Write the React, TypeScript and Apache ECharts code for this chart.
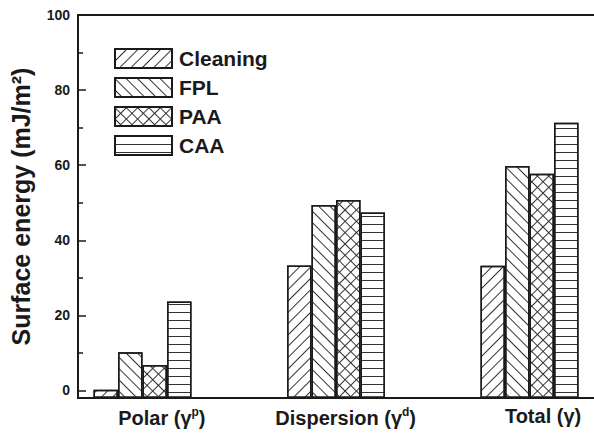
import React, { useEffect, useRef } from "react";
import * as echarts from "echarts";

const categories = ["Polar", "Dispersion", "Total"];
const categorySup = ["p", "d", ""];
const categoryPositions = [1, 2, 3];
const labelAnchors = [1.1, 2.05, 3.07];
const seriesNames = ["Cleaning", "FPL", "PAA", "CAA"];
const cleaning = [0.2, 33.3, 33.2];
const fpl = [10.2, 49.4, 59.8];
const paa = [6.8, 50.7, 57.7];
const caa = [23.7, 47.4, 71.3];
const yTicks = [0, 20, 40, 60, 80, 100];
const yMinorTicks = [10, 30, 50, 70, 90];
const yMin = -2;
const yMax = 100;

const FONT = 'Arial, "Liberation Sans", Helvetica, sans-serif';
const INK = "#1a1a1a";

const decals: any[] = [
  { symbol: "rect", symbolSize: 1, dashArrayX: [1, 0], dashArrayY: [1, 7], rotation: -Math.PI / 4, color: "#333" },
  { symbol: "rect", symbolSize: 1, dashArrayX: [1, 0], dashArrayY: [1, 7], rotation: Math.PI / 4, color: "#333" },
  {
    symbol: "path://M0,0H8V1H0Z M0,0H1V8H0Z",
    symbolSize: 1,
    symbolKeepAspect: false,
    dashArrayX: [8, 0],
    dashArrayY: [8, 0],
    rotation: Math.PI / 4,
    color: "#333",
  },
  { symbol: "rect", symbolSize: 1, dashArrayX: [1, 0], dashArrayY: [1, 7], rotation: 0, color: "#333" },
];

export default function App() {
  const ref = useRef<HTMLDivElement>(null);
  useEffect(() => {
    if (!ref.current) return;
    const chart = echarts.init(ref.current, null, { renderer: "svg" });
    const allData = [cleaning, fpl, paa, caa];
    const series = seriesNames.map((name, i) => ({
      name,
      type: "bar",
      xAxisIndex: 0,
      yAxisIndex: 0,
      barWidth: 24.5,
      barGap: "0%",
      data: categoryPositions.map((x, j) => [x, allData[i][j]]),
      itemStyle: {
        color: "#fff",
        borderColor: INK,
        borderWidth: 1.5,
        decal: decals[i],
      },
    }));
    chart.setOption({
      animation: false,
      backgroundColor: "#fff",
      textStyle: { fontFamily: FONT },
      grid: { left: 77, top: 15, right: -3, bottom: 37, containLabel: false },
      legend: {
        orient: "vertical",
        left: 114,
        top: 48,
        padding: 0,
        itemWidth: 57,
        itemHeight: 19,
        itemGap: 8,
        icon: "rect",
        data: seriesNames,
        textStyle: { fontSize: 21, fontWeight: "bold", color: INK, fontFamily: FONT, padding: [0, 0, 0, 2] },
      },
      xAxis: [
        {
          type: "value",
          min: 2 / 3,
          max: 10 / 3,
          position: "bottom",
          splitLine: { show: false },
          axisLine: { show: true, onZero: false, lineStyle: { color: INK, width: 2 } },
          axisTick: { show: false },
          axisLabel: {
            customValues: labelAnchors,
            margin: 8,
            formatter: (v: number) => {
              const idx = labelAnchors.findIndex((a) => Math.abs(a - v) < 1e-6);
              if (idx < 0) return "";
              const sup = categorySup[idx];
              return sup
                ? `{a|${categories[idx]} (γ}{s|${sup}}{a|)}`
                : `{a|${categories[idx]} (γ)}`;
            },
            rich: {
              a: { fontSize: 20, fontWeight: "bold", color: INK, fontFamily: FONT },
              s: { fontSize: 12, fontWeight: "bold", color: INK, fontFamily: FONT, padding: [0, 0, 12, 0] },
            },
          },
        },
        {
          type: "value",
          min: 2 / 3,
          max: 10 / 3,
          position: "top",
          splitLine: { show: false },
          axisLine: { show: true, onZero: false, lineStyle: { color: INK, width: 2 } },
          axisTick: { show: false },
          axisLabel: { show: false },
        },
      ],
      yAxis: [
        {
          type: "value",
          min: yMin,
          max: yMax,
          startValue: yMin,
          position: "left",
          name: "Surface energy (mJ/m²)",
          nameLocation: "middle",
          nameGap: 45,
          nameTextStyle: { fontSize: 25, fontWeight: "bold", color: INK, fontFamily: FONT },
          splitLine: { show: false },
          axisLine: { show: true, onZero: false, lineStyle: { color: INK, width: 2 } },
          axisTick: { show: true, inside: true, length: 8, customValues: yTicks, lineStyle: { color: INK, width: 1.5 } },
          axisLabel: { customValues: yTicks, fontSize: 14, fontWeight: "bold", color: INK, margin: 8, fontFamily: FONT },
        },
        {
          type: "value",
          min: yMin,
          max: yMax,
          position: "left",
          splitLine: { show: false },
          axisLine: { show: false, onZero: false },
          axisTick: { show: true, inside: true, length: 5, customValues: yMinorTicks, lineStyle: { color: INK, width: 1.5 } },
          axisLabel: { show: false },
        },
      ],
      series,
    });
    return () => chart.dispose();
  }, []);
  return (
    <div
      ref={ref}
      style={{ position: "absolute", left: 0, top: 0, width: 594, height: 435, background: "#fff" }}
    />
  );
}
